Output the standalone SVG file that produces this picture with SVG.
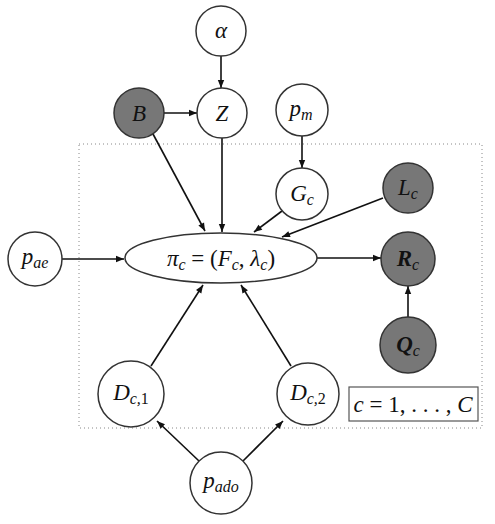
<svg xmlns="http://www.w3.org/2000/svg" width="495" height="524" viewBox="0 0 495 524">
<style>
.n{fill:#fff;stroke:#333;stroke-width:1.5}
.o{fill:#777;stroke:#333;stroke-width:1.5}
.t{font-family:"Liberation Serif","DejaVu Serif",serif;font-style:italic;font-size:23px;fill:#111;text-anchor:middle}
.r{font-style:normal}
.s{font-size:16px}
.e{stroke:#111;stroke-width:1.6;fill:none;marker-end:url(#ah)}
</style>
<defs>
<marker id="ah" viewBox="0 0 10 10" refX="10" refY="5" markerWidth="9" markerHeight="8" markerUnits="userSpaceOnUse" orient="auto">
<path d="M0,1 L10,5 L0,9 Z" fill="#111"/>
</marker>
</defs>
<rect x="79" y="144" width="403" height="284" fill="none" stroke="#888" stroke-width="1" stroke-dasharray="1,3"/>
<g id="edges">
<line class="e" x1="221" y1="56" x2="221" y2="88"/>
<line class="e" x1="164" y1="113" x2="197" y2="113"/>
<line class="e" x1="302" y1="136" x2="302" y2="168"/>
<line class="e" x1="153" y1="134" x2="205" y2="231"/>
<line class="e" x1="222" y1="138" x2="222" y2="232"/>
<line class="e" x1="282" y1="211" x2="254" y2="232"/>
<line class="e" x1="383" y1="198" x2="282" y2="237"/>
<line class="e" x1="62" y1="259" x2="124" y2="259"/>
<line class="e" x1="317" y1="258" x2="381" y2="258"/>
<line class="e" x1="408" y1="317" x2="408" y2="286"/>
<line class="e" x1="151" y1="366" x2="203" y2="285"/>
<line class="e" x1="291" y1="366" x2="241" y2="285"/>
<line class="e" x1="199" y1="461" x2="157" y2="421"/>
<line class="e" x1="243" y1="461" x2="283" y2="421"/>
</g>
<g id="alpha"><circle class="n" cx="221" cy="31" r="25"/><text class="t" x="221" y="38">α</text></g>
<g id="Z"><circle class="n" cx="222" cy="113" r="25"/><text class="t" x="222" y="121">Z</text></g>
<g id="B"><circle class="o" cx="139" cy="113" r="25"/><text class="t" x="139" y="121">B</text></g>
<g id="pm"><circle class="n" cx="302" cy="110" r="26"/><text class="t" x="301" y="116">p<tspan class="s" dy="4">m</tspan></text></g>
<g id="Gc"><circle class="n" cx="302" cy="194" r="26"/><text class="t" x="302" y="201">G<tspan class="s" dy="4">c</tspan></text></g>
<g id="Lc"><circle class="o" cx="408" cy="188" r="25"/><text class="t" x="408" y="195">L<tspan class="s" dy="4">c</tspan></text></g>
<g id="pae"><circle class="n" cx="35" cy="259" r="27"/><text class="t" x="35" y="264">p<tspan class="s" dy="4">ae</tspan></text></g>
<g id="pi"><ellipse class="n" cx="221" cy="258" rx="96" ry="25"/><text class="t" x="221" y="266">π<tspan class="s" dy="4">c</tspan><tspan class="r" dy="-4"> = (</tspan>F<tspan class="s" dy="4">c</tspan><tspan class="r" dy="-4">, </tspan>λ<tspan class="s" dy="4">c</tspan><tspan class="r" dy="-4">)</tspan></text></g>
<g id="Rc"><circle class="o" cx="408" cy="259" r="27"/><text class="t" x="408" y="266" font-weight="bold">R<tspan class="s" dy="4" font-weight="normal">c</tspan></text></g>
<g id="Qc"><circle class="o" cx="408" cy="345" r="28"/><text class="t" x="408" y="352" font-weight="bold">Q<tspan class="s" dy="4" font-weight="normal">c</tspan></text></g>
<g id="Dc1"><circle class="n" cx="131" cy="394" r="33"/><text class="t" x="131" y="400">D<tspan class="s" dy="4">c,</tspan><tspan class="s r">1</tspan></text></g>
<g id="Dc2"><circle class="n" cx="308" cy="394" r="31"/><text class="t" x="308" y="400">D<tspan class="s" dy="4">c,</tspan><tspan class="s r">2</tspan></text></g>
<g id="pado"><circle class="n" cx="221" cy="483" r="31"/><text class="t" x="221" y="488">p<tspan class="s" dy="4">ado</tspan></text></g>
<g id="plate"><rect x="349" y="387" width="129" height="34" fill="#fff" stroke="#555" stroke-width="1.2"/><text class="t" x="413" y="412">c<tspan class="r"> = 1, . . . , </tspan>C</text></g>
</svg>
